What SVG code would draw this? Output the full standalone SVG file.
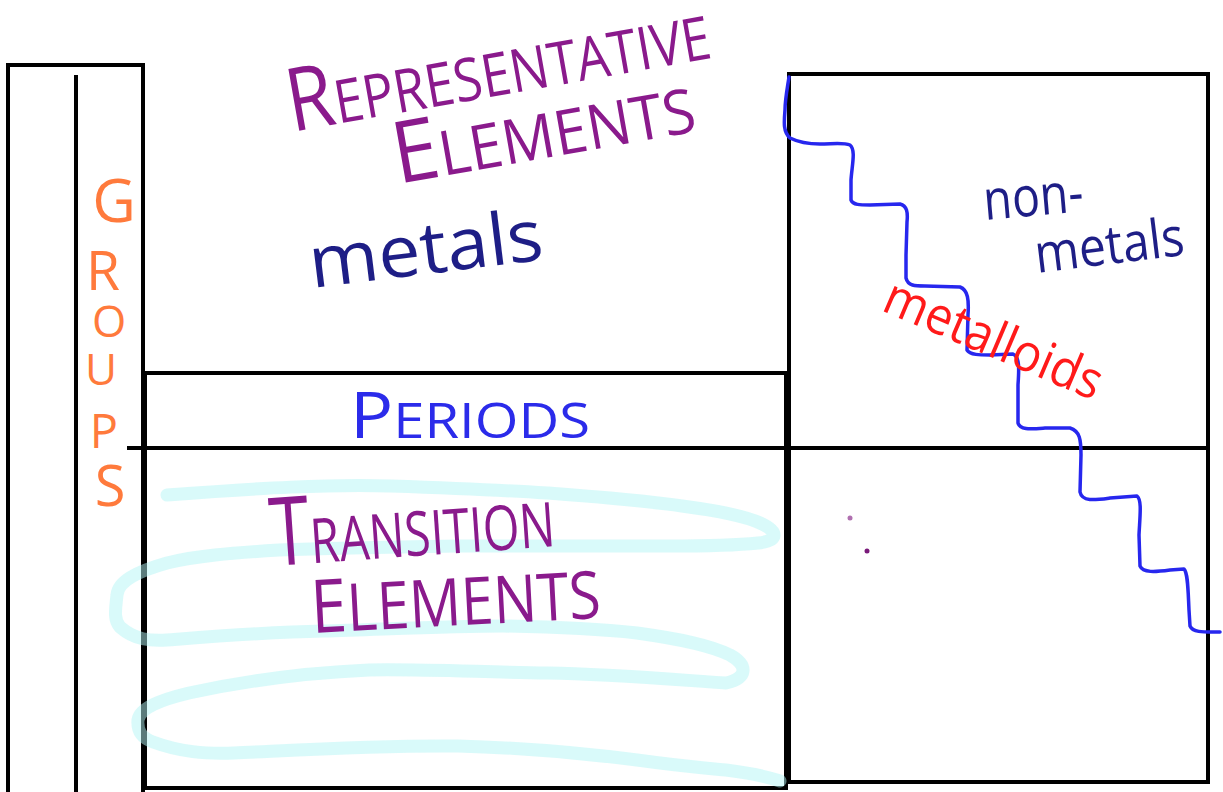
<svg xmlns="http://www.w3.org/2000/svg" width="1223" height="792" viewBox="0 0 1223 792">
<style>
.ln{stroke:#000;stroke-width:4;fill:none;stroke-linecap:square}
.t{font-family:"Open Sans","Liberation Sans","DejaVu Sans",sans-serif;font-weight:400}
.pur{fill:#8a1a8c}
.navy{fill:#1e1e86}
</style>
<rect width="1223" height="792" fill="#fff"/>
<g id="frame">
  <path class="ln" d="M8 792 V65 H143 V792"/>
  <path class="ln" d="M76 77 V792"/>
  <path class="ln" d="M145 373 H786 V788 H145 Z"/>
  <path class="ln" d="M129 448 H1205"/>
  <path class="ln" d="M789 74 H1208 V782 H789 Z"/>
</g>
<g id="highlight">
  <path d="M167 495 C260 488 330 484 391 486 C450 488 500 490 547 493 C600 497 640 500 682 506 C720 511 745 516 760 523 C780 532 778 541 758 543 C720 547 680 546 637 546 C580 546 520 546 458 546 C390 547 330 548 279 550 C230 553 195 556 167 563 C135 572 118 582 117 595 C115 612 114 620 120 627 C135 640 150 641 167 640 C220 636 270 632 323 631 C390 629 450 626 503 626 C560 627 600 629 637 633 C680 639 710 645 730 655 C748 665 748 678 726 683 C680 680 610 674 548 673 C480 672 420 669 369 670 C300 673 240 682 189 693 C160 700 140 708 138 720 C137 732 142 738 153 742 C180 752 205 754 234 753 C300 750 380 745 458 746 C530 748 590 754 637 760 C680 766 705 768 726 770 C750 773 768 777 780 781" fill="none" stroke="#b4f6f6" stroke-width="13" stroke-linecap="round" stroke-linejoin="round" opacity="0.5"/>
</g>
<g id="staircase">
  <path d="M789 77 C787 90 785 100 785 110 C784 122 783 132 790 138 C800 143 810 144 820 144 C832 144 843 142 850 145 C856 150 852 165 851 180 L851 200 C853 205 860 205 870 205 L900 204 C907 206 908 212 907 222 L906 255 L906 278 C908 286 915 286 925 286 L960 287 C968 290 969 300 968 315 L967 350 C970 355 980 355 990 355 L1013 354 C1020 357 1019 370 1018 385 L1018 423 C1020 430 1030 429 1045 428 L1070 428 C1080 431 1081 440 1081 455 L1080 492 C1082 502 1095 500 1110 498 L1137 496 C1142 500 1140 515 1139 535 L1140 566 C1143 573 1155 572 1170 570 L1184 569 C1188 573 1188 590 1189 610 L1190 626 C1193 633 1205 632 1220 632" fill="none" stroke="#2727ee" stroke-width="3.5" stroke-linecap="round" stroke-linejoin="round"/>
</g>
<g id="groups-label" class="t" fill="#ff7a3c" text-anchor="middle">
  <text><tspan x="114" y="222" font-size="60">G</tspan><tspan x="103" y="290" font-size="55">R</tspan><tspan x="109" y="337" font-size="44">O</tspan><tspan x="101" y="385" font-size="44">U</tspan><tspan x="104" y="448" font-size="47">P</tspan><tspan x="110" y="506" font-size="56">S</tspan></text>
</g>
<g id="representative" class="t pur">
  <text transform="translate(292,132) rotate(-10)" textLength="428" lengthAdjust="spacingAndGlyphs"><tspan font-size="88">R</tspan><tspan font-size="60">EPRESENTATIVE</tspan></text>
  <text transform="translate(398,184) rotate(-10)" textLength="305" lengthAdjust="spacingAndGlyphs"><tspan font-size="86">E</tspan><tspan font-size="62">LEMENTS</tspan></text>
</g>
<g id="metals" class="t navy">
  <text transform="translate(312,288) rotate(-7)" font-size="72" textLength="235" lengthAdjust="spacingAndGlyphs">metals</text>
</g>
<g id="nonmetals" class="t navy">
  <text transform="translate(985,220) rotate(-5)" font-size="56" textLength="100" lengthAdjust="spacingAndGlyphs">non-</text>
  <text transform="translate(1037,273) rotate(-7)" font-size="54" textLength="150" lengthAdjust="spacingAndGlyphs">metals</text>
</g>
<g id="metalloids" class="t">
  <text transform="translate(880,310) rotate(23)" font-size="52" fill="#ff1a1a" textLength="232" lengthAdjust="spacingAndGlyphs">metalloids</text>
</g>
<g id="periods" class="t">
  <text x="350" y="438" fill="#2b2bea" textLength="240" lengthAdjust="spacingAndGlyphs"><tspan font-size="64">P</tspan><tspan font-size="50">ERIODS</tspan></text>
</g>
<g id="transition" class="t pur">
  <text transform="translate(272,566) rotate(-4)" textLength="285" lengthAdjust="spacingAndGlyphs"><tspan font-size="95">T</tspan><tspan font-size="62">RANSITION</tspan></text>
  <text transform="translate(312,633) rotate(-3)" textLength="290" lengthAdjust="spacingAndGlyphs"><tspan font-size="74">E</tspan><tspan font-size="66">LEMENTS</tspan></text>
</g>
<g id="dots">
  <circle cx="850" cy="518" r="2.5" fill="#b070b0"/>
  <circle cx="867" cy="551" r="2.5" fill="#7a1a7a"/>
</g>
</svg>
